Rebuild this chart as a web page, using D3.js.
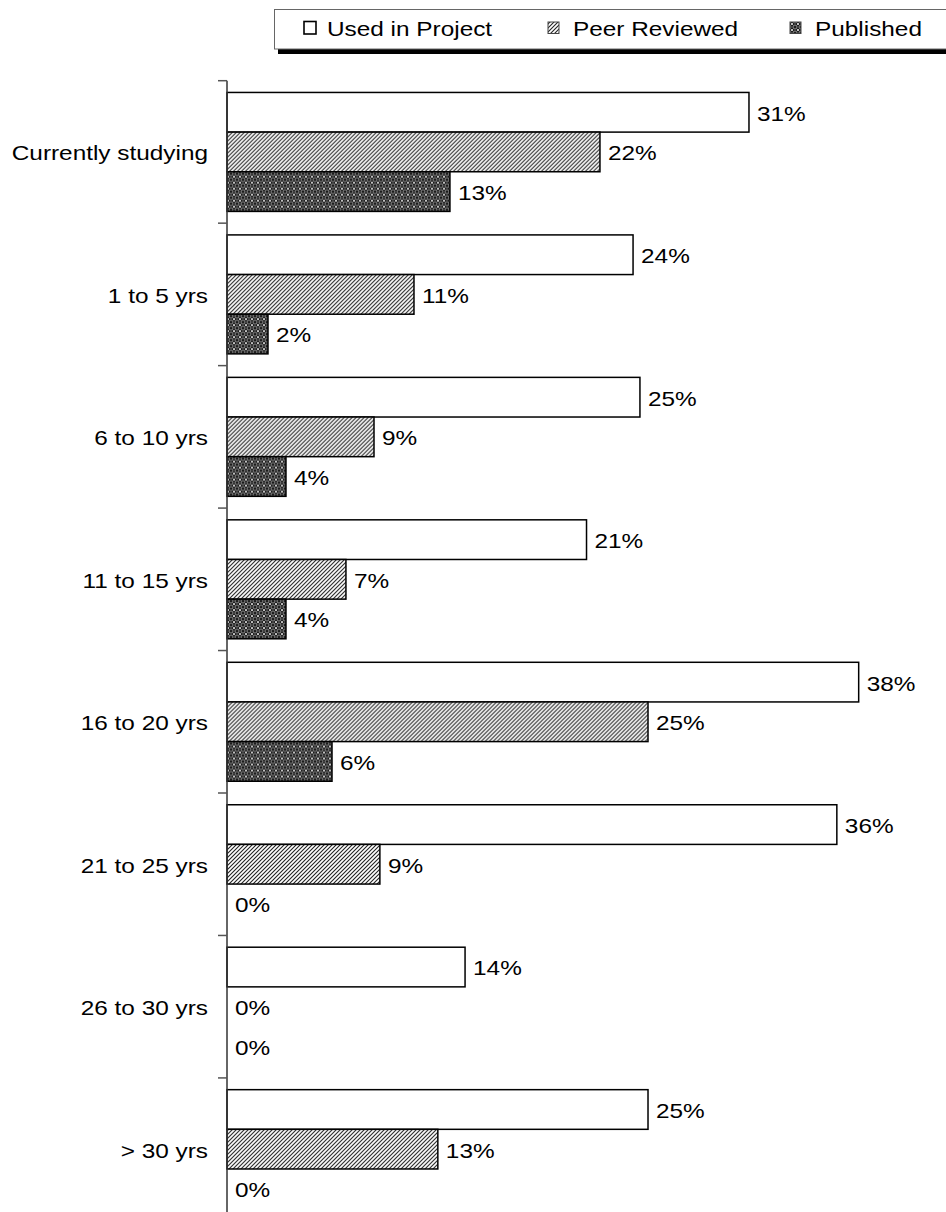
<!DOCTYPE html>
<html>
<head>
<meta charset="utf-8">
<script src="https://cdn.jsdelivr.net/npm/d3@7"></script>
<style>
  body { margin: 0; background: #fff; }
  text { font-family: "Liberation Sans", Arial, sans-serif; fill: #000; }
</style>
</head>
<body>
<div id="chart"></div>
<script>
// data (percent of respondents)
const categories = ["Currently studying", "1 to 5 yrs", "6 to 10 yrs", "11 to 15 yrs",
                    "16 to 20 yrs", "21 to 25 yrs", "26 to 30 yrs", "> 30 yrs"];
const seriesNames = ["Used in Project", "Peer Reviewed", "Published"];
const usedInProject = [31.07, 24.17, 24.58, 21.4, 37.6, 36.3, 14.17, 25.06];
const peerReviewed  = [22.2, 11.13, 8.75, 7.08, 25.06, 9.1, 0, 12.55];
const published     = [13.27, 2.44, 3.51, 3.51, 6.25, 0, 0, 0];

const width = 946;
const height = 1212;
const axisX = 227;
const topY = 80.7;
const step = 142.46;
const stretch = 1.16; // text in the original is a bit wide

const svg = d3.select('#chart')
    .append('svg')
    .attr('width', width)
    .attr('height', height);

// patterns
const defs = svg.append('defs');

const hatch = defs.append('pattern')
    .attr('id', 'hatch')
    .attr('patternUnits', 'userSpaceOnUse')
    .attr('width', 4).attr('height', 4);
hatch.append('rect').attr('width', 4).attr('height', 4).attr('fill', '#fff');
hatch.append('path')
    .attr('d', 'M0,4 L4,0 M-1,1 L1,-1 M3,5 L5,3')
    .attr('stroke', '#222').attr('stroke-width', 1.1);

const dots = defs.append('pattern')
    .attr('id', 'dots')
    .attr('patternUnits', 'userSpaceOnUse')
    .attr('width', 6).attr('height', 6);
dots.append('rect').attr('width', 6).attr('height', 6).attr('fill', '#1c1c1c');
dots.append('circle').attr('cx', 3).attr('cy', 3).attr('r', 2)
    .attr('fill', 'none').attr('stroke', '#9a9a9a').attr('stroke-width', 0.9);
dots.append('path')
    .attr('d', 'M0,0 h1 M5,0 h1 M0,6 h1 M5,6 h1 M0,0 v1 M0,5 v1 M6,0 v1 M6,5 v1')
    .attr('stroke', '#e8e8e8').attr('stroke-width', 1.2);

const fills = ['#fff', 'url(#hatch)', 'url(#dots)'];

// scales
const y = d3.scaleBand()
    .domain(categories)
    .range([topY, topY + step * categories.length]);

const ySub = d3.scaleBand()
    .domain(seriesNames)
    .range([11.75, step - 11.75]);

const x = d3.scaleLinear()
    .domain([0, 40])
    .range([axisX, axisX + 40 * 16.8]);

const rows = categories.map((c, i) => ({
    cat: c,
    vals: [usedInProject[i], peerReviewed[i], published[i]]
}));

function addText(g, px, py, str, anchor) {
    g.append('text')
        .attr('transform', `translate(${px},${py}) scale(${stretch},1)`)
        .attr('text-anchor', anchor)
        .attr('dominant-baseline', 'central')
        .attr('font-size', '21px')
        .text(str);
}

// bars
const groups = svg.append('g')
    .selectAll('g')
    .data(rows)
    .join('g')
    .attr('transform', d => `translate(0,${y(d.cat)})`);

groups.each(function(d) {
    const g = d3.select(this);
    d.vals.forEach((v, k) => {
        if (v > 0) {
            g.append('rect')
                .attr('x', x(0))
                .attr('y', ySub(seriesNames[k]))
                .attr('width', x(v) - x(0))
                .attr('height', ySub.bandwidth())
                .attr('fill', fills[k])
                .attr('stroke', '#000')
                .attr('stroke-width', 1.5);
        }
        addText(g, x(v) + 8, ySub(seriesNames[k]) + ySub.bandwidth() / 2 + 1,
            Math.round(v) + '%', 'start');
    });
});

// axis: line plus a tick between every category
const axisG = svg.append('g')
    .attr('transform', `translate(${axisX},0)`);
axisG.append('line')
    .attr('y1', topY).attr('y2', height + 20)
    .attr('stroke', '#333').attr('stroke-width', 1.5);
axisG.selectAll('.tk')
    .data(d3.range(categories.length + 1))
    .join('line')
    .attr('class', 'tk')
    .attr('x1', -9).attr('x2', 0)
    .attr('y1', i => topY + i * step)
    .attr('y2', i => topY + i * step)
    .attr('stroke', '#555').attr('stroke-width', 1.5);

const labels = svg.append('g');
categories.forEach(c => {
    addText(labels, 208, y(c) + y.bandwidth() / 2 + 1, c, 'end');
});

// legend
const legend = svg.append('g');
legend.append('rect')
    .attr('x', 278).attr('y', 49).attr('width', 700).attr('height', 5)
    .attr('fill', '#000');
legend.append('rect')
    .attr('x', 274.5).attr('y', 9.5).attr('width', 700).attr('height', 39.5)
    .attr('fill', '#fff').attr('stroke', '#666').attr('stroke-width', 1);

const legendItems = [
    {name: seriesNames[0], icon: 304, tx: 327},
    {name: seriesNames[1], icon: 548, tx: 573},
    {name: seriesNames[2], icon: 790, tx: 815}
];
legendItems.forEach((d, k) => {
    if (k === 0) {
        legend.append('rect')
            .attr('x', d.icon).attr('y', 21.5).attr('width', 12).attr('height', 12.5)
            .attr('fill', '#fff').attr('stroke', '#000').attr('stroke-width', 1.6);
    } else {
        legend.append('rect')
            .attr('x', d.icon).attr('y', 22).attr('width', 11).attr('height', 11.5)
            .attr('fill', fills[k]).attr('stroke', '#444').attr('stroke-width', 1);
    }
    addText(legend, d.tx, 28.5, d.name, 'start');
});
</script>
</body>
</html>
